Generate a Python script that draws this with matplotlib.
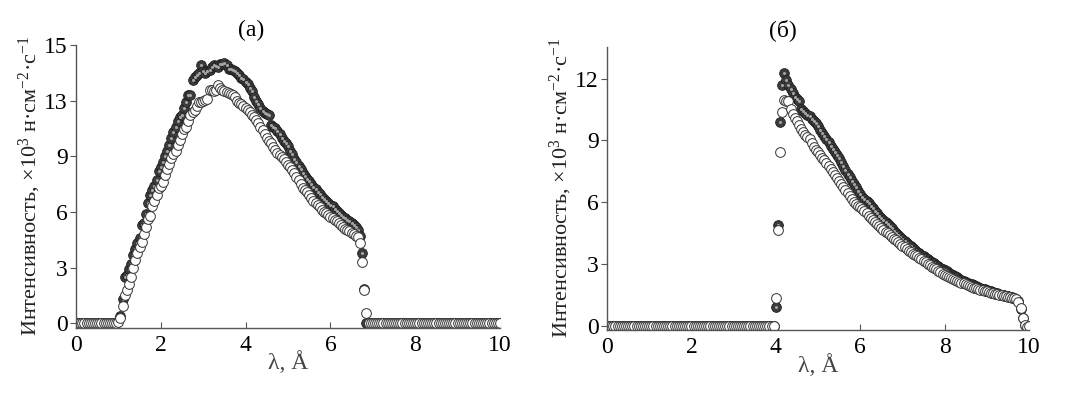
import numpy as np
import matplotlib
matplotlib.use("Agg")
import matplotlib.pyplot as plt

plt.rcParams["font.family"] = ["Liberation Serif", "DejaVu Serif"]
plt.rcParams["mathtext.default"] = "regular"

# сетка по длине волны, шаг 0.05 Å
lam = np.round(np.arange(0, 10.0001, 0.05), 2)

# (a) светлые кружки, от 1.00 Å
a_open_start = 1.00
a_open = [
    0.05, 0.3, 0.95, 1.5, 1.8, 2.1, 2.5, 3.0, 3.4, 3.8,
    4.1, 4.4, 4.8, 5.2, 5.6, 5.8, 6.3, 6.6, 6.9, 7.3,
    7.4, 7.6, 8.0, 8.3, 8.6, 8.9, 9.1, 9.3, 9.6, 9.9,
    10.2, 10.45, 10.6, 10.9, 11.2, 11.4, 11.5, 11.7, 11.9, 11.95,
    12.0, 12.05, 12.1, 12.6, 12.6, 12.5, 12.6, 12.85, 12.7, 12.6,
    12.5, 12.45, 12.4, 12.35, 12.3, 12.2, 12.0, 11.85, 11.8, 11.7,
    11.6, 11.5, 11.4, 11.25, 11.1, 10.95, 10.8, 10.6, 10.4, 10.2,
    10.0, 9.8, 9.7, 9.5, 9.35, 9.2, 9.05, 8.95, 8.85, 8.7,
    8.55, 8.4, 8.25, 8.1, 7.9, 7.7, 7.5, 7.3, 7.2, 7.05,
    6.9, 6.75, 6.6, 6.5, 6.35, 6.25, 6.1, 6.0, 5.95, 5.85,
    5.75, 5.65, 5.55, 5.5, 5.4, 5.3, 5.2, 5.1, 5.05, 4.95,
    4.85, 4.8, 4.7, 4.65, 4.3, 3.3, 1.8, 0.55,
]
# (a) тёмные шарики, от 1.00 Å
a_fill_start = 1.00
a_fill = [
    0.1, 0.4, 1.3, 2.5, 2.6, 2.9, 3.2, 3.7, 4.0, 4.3,
    4.6, 5.3, 5.4, 5.9, 6.5, 6.9, 7.2, 7.4, 7.7, 8.2,
    8.4, 8.7, 9.0, 9.3, 9.6, 10.0, 10.3, 10.6, 10.9, 11.1,
    11.2, 11.6, 11.9, 12.3, 12.3, 13.1, 13.3, 13.4, 13.5, 13.9,
    13.6, 13.5, 13.6, 13.65, 13.8, 13.9, 13.85, 13.8, 14.0, 14.0,
    14.05, 13.9, 13.7, 13.7, 13.65, 13.6, 13.5, 13.4, 13.2, 13.15,
    13.0, 12.9, 12.7, 12.5, 12.2, 12.0, 11.8, 11.6, 11.45, 11.35,
    11.3, 11.2, 10.7, 10.6, 10.5, 10.35, 10.2, 10.0, 9.85, 9.7,
    9.55, 9.3, 9.1, 8.85, 8.7, 8.5, 8.3, 8.1, 7.95, 7.8,
    7.65, 7.5, 7.35, 7.25, 7.1, 6.95, 6.8, 6.7, 6.6, 6.5,
    6.4, 6.3, 6.15, 6.05, 5.95, 5.85, 5.75, 5.65, 5.55, 5.5,
    5.4, 5.3, 5.2, 5.05, 4.7, 3.8, 1.85,
]

# (б) светлые кружки, от 4.00 Å
b_open_start = 4.00
b_open = [
    1.33, 4.65, 8.45, 10.4, 10.96, 10.9, 10.9, 10.5, 10.3, 10.1,
    9.95, 9.75, 9.55, 9.4, 9.25, 9.15, 9.05, 8.85, 8.7, 8.55,
    8.45, 8.3, 8.15, 8.05, 7.9, 7.75, 7.6, 7.45, 7.3, 7.15,
    7.05, 6.9, 6.75, 6.6, 6.45, 6.3, 6.15, 6.0, 5.9, 5.8,
    5.75, 5.65, 5.55, 5.45, 5.35, 5.25, 5.15, 5.05, 4.95, 4.85,
    4.75, 4.65, 4.56, 4.48, 4.4, 4.31, 4.23, 4.14, 4.06, 3.97,
    3.89, 3.81, 3.72, 3.64, 3.57, 3.5, 3.43, 3.36, 3.29, 3.22,
    3.15, 3.08, 3.01, 2.94, 2.87, 2.8, 2.73, 2.66, 2.59, 2.53,
    2.48, 2.43, 2.38, 2.33, 2.28, 2.23, 2.18, 2.13, 2.09, 2.05,
    2.01, 1.97, 1.93, 1.89, 1.85, 1.81, 1.78, 1.75, 1.72, 1.69,
    1.66, 1.63, 1.6, 1.57, 1.55, 1.52, 1.5, 1.47, 1.45, 1.42,
    1.4, 1.37, 1.35, 1.32, 1.28, 1.15, 0.84, 0.36, 0.05, -0.05,
]
# (б) тёмные шарики, от 4.00 Å
b_fill_start = 4.00
b_fill = [
    0.92, 4.89, 9.9, 11.7, 12.26, 11.95, 11.7, 11.5, 11.3, 11.1,
    11.0, 10.9, 10.5, 10.45, 10.35, 10.25, 10.2, 10.05, 9.95, 9.85,
    9.7, 9.5, 9.35, 9.2, 9.05, 8.9, 8.75, 8.6, 8.45, 8.3,
    8.15, 7.95, 7.75, 7.55, 7.35, 7.2, 7.05, 6.9, 6.75, 6.55,
    6.4, 6.25, 6.15, 6.05, 5.95, 5.8, 5.7, 5.55, 5.45, 5.35,
    5.25, 5.15, 5.03, 4.92, 4.82, 4.72, 4.62, 4.52, 4.42, 4.32,
    4.22, 4.12, 4.03, 3.94, 3.85, 3.77, 3.68, 3.6, 3.52, 3.44,
    3.37, 3.3, 3.23, 3.16, 3.09, 3.02, 2.95, 2.88, 2.82, 2.76,
    2.7, 2.64, 2.58, 2.52, 2.46, 2.4, 2.34, 2.29, 2.24, 2.19,
    2.14, 2.09, 2.04, 2.0, 1.96, 1.92, 1.88, 1.84, 1.8, 1.76,
    1.72, 1.69, 1.66, 1.63, 1.6, 1.57, 1.54, 1.51, 1.48, 1.46,
    1.43, 1.4, 1.38, 1.35, 1.31, 1.2, 0.8, 0.35, 0.05,
]

x_ticks = [0, 2, 4, 6, 8, 10]
a_yticks = [0, 3, 6, 9, 12, 15]
a_yticklabels = ["0", "3", "6", "9", "13", "15"]
b_yticks = [0, 3, 6, 9, 12]
b_yticklabels = ["0", "3", "6", "9", "12"]


def on_grid(start, values):
    # вне измеренного участка интенсивность нулевая
    y = np.zeros(len(lam))
    i0 = int(round(start / 0.05))
    n = min(len(values), len(y) - i0)
    y[i0:i0 + n] = values[:n]
    return y


def draw(ax, y_fill, y_open, ylim, yticks, yticklabels):
    ms = 7.0
    ax.plot(lam, y_fill, "o", ms=ms, mfc="#3c3c3c", mec="#1e1e1e", mew=0.6)
    ax.plot(lam, y_fill, "o", ms=2.2, mfc="#a5a5a5", mec="none")
    ax.plot(lam, y_open, "o", ms=ms, mfc="white", mec="#333333", mew=0.7)
    ax.set_xlim(0, 10)
    ax.set_ylim(*ylim)
    ax.set_xticks(x_ticks)
    ax.set_yticks(yticks)
    ax.set_yticklabels(yticklabels)
    for s in ("top", "right"):
        ax.spines[s].set_visible(False)
    for s in ("left", "bottom"):
        ax.spines[s].set_color("#555555")
        ax.spines[s].set_linewidth(1.0)
    ax.tick_params(axis="x", direction="in", length=4, color="#555555",
                   labelsize=17, pad=5)
    ax.tick_params(axis="y", direction="out", length=4, color="#555555",
                   labelsize=17, pad=2)
    ax.set_xlabel("λ, Å", fontsize=17, color="#444444", labelpad=-3)
    ax.set_ylabel("Интенсивность, ×10$^{3}$ н·см$^{-2}$·с$^{-1}$",
                  fontsize=16, color="#222222")
    ax.yaxis.set_label_coords(-0.078, 0.5)


fig = plt.figure(figsize=(10.7, 3.97), dpi=100)
ax1 = fig.add_axes([0.0710, 0.1746, 0.3963, 0.7121])
ax2 = fig.add_axes([0.5673, 0.1688, 0.3944, 0.7136])

draw(ax1, on_grid(a_fill_start, a_fill), on_grid(a_open_start, a_open),
     (-0.24, 15), a_yticks, a_yticklabels)
draw(ax2, on_grid(b_fill_start, b_fill), on_grid(b_open_start, b_open),
     (-0.21, 13.55), b_yticks, b_yticklabels)

fig.text(251 / 1070, 1 - 30 / 397, "(a)", ha="center", va="center", fontsize=17)
fig.text(783 / 1070, 1 - 30 / 397, "(б)", ha="center", va="center", fontsize=17)

fig.savefig("out.png", dpi=100)
